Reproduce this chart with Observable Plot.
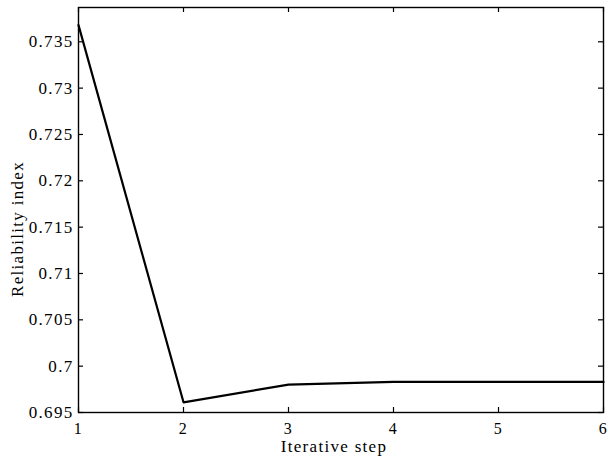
<!DOCTYPE html>
<html>
<head>
<meta charset="utf-8">
<script src="https://cdn.jsdelivr.net/npm/d3@7"></script>
<script src="https://cdn.jsdelivr.net/npm/@observablehq/plot@0.6"></script>
<style>
  html, body { margin: 0; padding: 0; background: #fff; }
  #chart svg { display: block; }
  #chart svg, #chart svg text { font-family: "Liberation Serif", "Times New Roman", serif !important; letter-spacing: 1.3px; }
</style>
</head>
<body>
<div id="chart"></div>
<script>
const steps = [1, 2, 3, 4, 5, 6];
const reliability = [0.7368, 0.6961, 0.6980, 0.6983, 0.6983, 0.6983];
const xTicks = [1, 2, 3, 4, 5, 6];
const yTicks = [0.695, 0.7, 0.705, 0.71, 0.715, 0.72, 0.725, 0.73, 0.735];
const xLabel = "Iterative step";
const yLabel = "Reliability index";

const data = steps.map((s, i) => ({step: s, value: reliability[i]}));

const W = 608, H = 460;
const mL = 78, mR = 5, mT = 7, mB = 48;
const plotW = W - mL - mR, plotH = H - mT - mB;
const tk = 5;

const chart = Plot.plot({
  width: W,
  height: H,
  marginLeft: mL,
  marginRight: mR,
  marginTop: mT,
  marginBottom: mB,
  style: {fontSize: "17px", color: "#000", background: "#fff"},
  x: {domain: [1, 6]},
  y: {domain: [0.695, 0.7387]},
  marks: [
    Plot.axisX(xTicks, {tickSize: 0, tickPadding: 10, label: null, fontSize: 16, tickFormat: d => String(d)}),
    Plot.axisY(yTicks, {tickSize: 0, tickPadding: 5, label: null, fontSize: 17, tickFormat: d => String(+d.toFixed(3))}),
    // inward ticks on all four sides
    Plot.tickX(xTicks, {x: d => d, insetTop: plotH - tk, stroke: "#000", strokeWidth: 1.2}),
    Plot.tickX(xTicks, {x: d => d, insetBottom: plotH - tk, stroke: "#000", strokeWidth: 1.2}),
    Plot.tickY(yTicks, {y: d => d, insetRight: plotW - tk, stroke: "#000", strokeWidth: 1.2}),
    Plot.tickY(yTicks, {y: d => d, insetLeft: plotW - tk, stroke: "#000", strokeWidth: 1.2}),
    Plot.lineY(data, {x: "step", y: "value", stroke: "#000", strokeWidth: 2.2}),
    Plot.frame({stroke: "#000", strokeWidth: 1.4}),
    Plot.text([xLabel], {text: d => d, frameAnchor: "bottom", dy: 39, dx: -7, fontSize: 17, fill: "#000"}),
    Plot.text([yLabel], {text: d => d, frameAnchor: "left", textAnchor: "middle", dx: -61, dy: 19, rotate: -90, fontSize: 17, fill: "#000"})
  ]
});
document.getElementById("chart").appendChild(chart);
</script>
</body>
</html>
